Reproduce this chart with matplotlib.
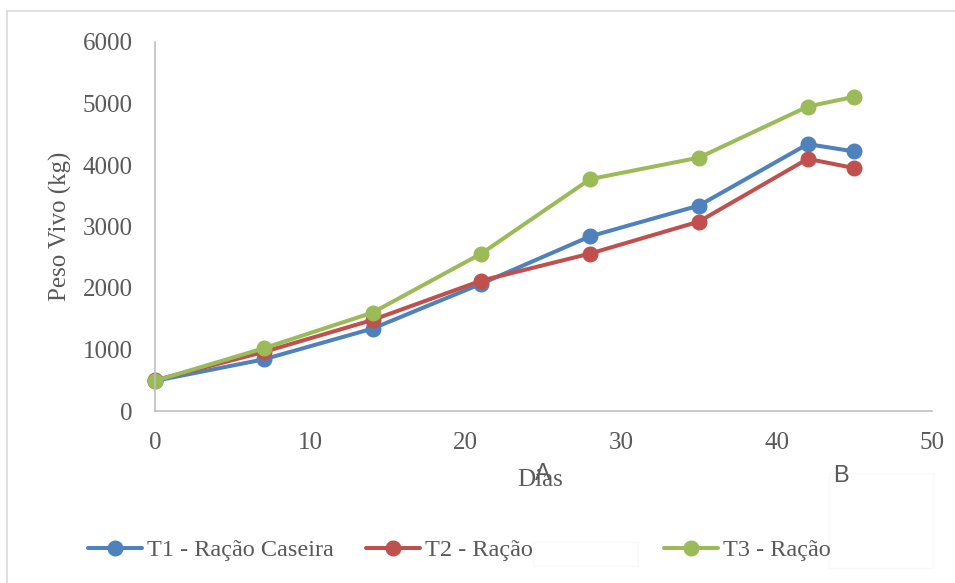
import matplotlib
matplotlib.use("Agg")
import matplotlib.pyplot as plt
from matplotlib.patches import Rectangle

dias = [0, 7, 14, 21, 28, 35, 42, 45]
t1_racao_caseira = [490, 840, 1340, 2070, 2840, 3340, 4340, 4220]
t2_racao = [500, 960, 1480, 2120, 2560, 3080, 4100, 3950]
t3_racao = [490, 1020, 1600, 2560, 3770, 4120, 4950, 5110]
series_names = ["T1 - Ração Caseira", "T2 - Ração", "T3 - Ração"]
colors = ["#4F81BD", "#C0504D", "#9BBB59"]
x_ticks = [0, 10, 20, 30, 40, 50]
y_ticks = [0, 1000, 2000, 3000, 4000, 5000, 6000]

W, H = 955, 583
fig = plt.figure(figsize=(W / 100, H / 100), dpi=100)
serif = "Liberation Serif"
txt_col = "#595959"
fs = 18

# outer chart frame
fig.patches.append(Rectangle((7 / W, -0.1), 1.2, (H - 11.5) / H + 0.1,
                             transform=fig.transFigure, fill=False,
                             edgecolor="#d9d9d9", linewidth=1.2))
# faint boxes
fig.patches.append(Rectangle((829 / W, 1 - 568 / H), (933 - 829) / W, (568 - 473) / H,
                             transform=fig.transFigure, facecolor="white",
                             edgecolor="#f8f8f8", linewidth=1.0))
fig.patches.append(Rectangle((533 / W, 1 - 566 / H), (638 - 533) / W, (566 - 542) / H,
                             transform=fig.transFigure, facecolor="white",
                             edgecolor="#f8f8f8", linewidth=1.0))

ax = fig.add_axes([155 / W, (H - 411) / H, (932 - 155) / W, (411 - 42) / H])
ax.patch.set_alpha(0)

handles = []
for ys, c, name in zip([t1_racao_caseira, t2_racao, t3_racao], colors, series_names):
    h, = ax.plot(dias, ys, color=c, linewidth=2.9, marker="o", markersize=10.5,
                 label=name, solid_capstyle="round", clip_on=False)
    handles.append(h)

ax.set_xlim(0, 50)
ax.set_ylim(0, 6000)
ax.set_xticks(x_ticks)
ax.set_yticks(y_ticks)
for s in ["top", "right"]:
    ax.spines[s].set_visible(False)
for s in ["left", "bottom"]:
    ax.spines[s].set_color("#bfbfbf")
    ax.spines[s].set_linewidth(1.2)
ax.tick_params(axis="both", length=0, labelsize=fs, labelcolor=txt_col)
ax.tick_params(axis="x", pad=15)
ax.tick_params(axis="y", pad=16)
for lab in ax.get_xticklabels() + ax.get_yticklabels():
    lab.set_family(serif)

ax.set_ylabel("Peso Vivo (kg)", family=serif, fontsize=fs, color=txt_col, va="center")
ax.yaxis.set_label_coords((60 - 155) / 777, 0.5)
ax.set_xlabel("Dias", family=serif, fontsize=fs, color=txt_col, va="center")
ax.xaxis.set_label_coords((540 - 155) / 777, (411 - 480) / 369)

fig.text(543 / W, 1 - 474 / H, "A", family="Liberation Sans", fontsize=17,
         color=txt_col, ha="center", va="center")
fig.text(841 / W, 1 - 476 / H, "B", family="Liberation Sans", fontsize=17,
         color=txt_col, ha="center", va="center")

# legend entries
leg_fs = 17.5
fs_px = leg_fs * 100 / 72
starts = [88, 366, 664]
legs = []
for h, x0 in zip(handles, starts):
    leg = fig.legend(handles=[h], loc="center left",
                     bbox_to_anchor=(x0 / W, 1 - 550 / H),
                     frameon=False, borderpad=0, borderaxespad=0,
                     handlelength=54 / fs_px, handletextpad=5 / fs_px,
                     prop={"family": serif, "size": leg_fs})
    for t in leg.get_texts():
        t.set_color(txt_col)
    legs.append(leg)

fig.savefig("out.png", dpi=100)
